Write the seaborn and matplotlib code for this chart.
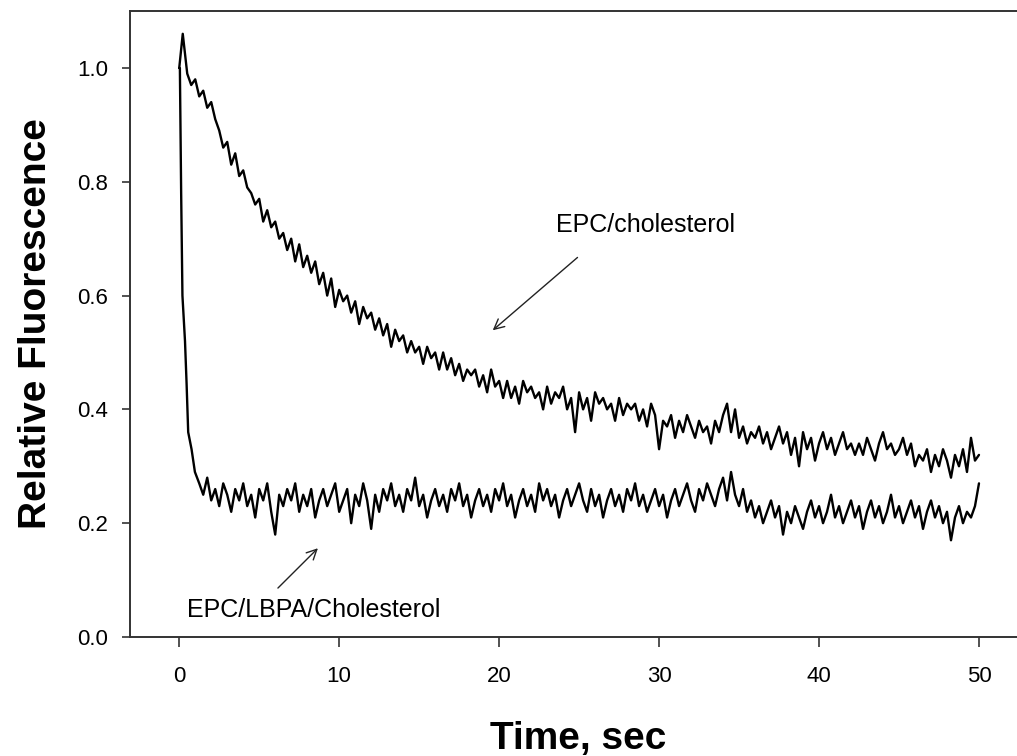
import numpy as np
import pandas as pd
import seaborn as sns
from matplotlib import pyplot as plt

# EPC/cholesterol trace: the first points by hand, then samples every 0.25 s from t=0.5
chol_head_t = [0.0, 0.22]
chol_head_v = [1.00, 1.06]
chol_start, chol_dt = 0.5, 0.25
chol_v = [
    0.99, 0.97, 0.98, 0.95, 0.96, 0.93, 0.94, 0.91,
    0.89, 0.86, 0.87, 0.83, 0.85, 0.81, 0.82, 0.79,
    0.78, 0.76, 0.77, 0.73, 0.75, 0.72, 0.73, 0.70,
    0.71, 0.68, 0.70, 0.66, 0.69, 0.65, 0.67, 0.64,
    0.66, 0.62, 0.64, 0.60, 0.63, 0.58, 0.61, 0.59,
    0.60, 0.57, 0.59, 0.55, 0.58, 0.56, 0.57, 0.54,
    0.56, 0.53, 0.55, 0.51, 0.54, 0.52, 0.53, 0.50,
    0.52, 0.50, 0.51, 0.48, 0.51, 0.49, 0.50, 0.47,
    0.50, 0.47, 0.49, 0.46, 0.48, 0.45, 0.47, 0.46,
    0.47, 0.44, 0.46, 0.43, 0.47, 0.44, 0.45, 0.42,
    0.45, 0.42, 0.44, 0.41, 0.45, 0.43, 0.44, 0.42,
    0.43, 0.40, 0.44, 0.41, 0.43, 0.42, 0.44, 0.40,
    0.42, 0.36, 0.43, 0.40, 0.42, 0.38, 0.43, 0.41,
    0.42, 0.40, 0.41, 0.38, 0.42, 0.39, 0.41, 0.40,
    0.41, 0.38, 0.40, 0.37, 0.41, 0.39, 0.33, 0.38,
    0.37, 0.39, 0.35, 0.38, 0.36, 0.39, 0.37, 0.35,
    0.38, 0.36, 0.37, 0.34, 0.38, 0.36, 0.39, 0.41,
    0.36, 0.40, 0.35, 0.37, 0.34, 0.36, 0.35, 0.37,
    0.34, 0.36, 0.33, 0.35, 0.37, 0.34, 0.36, 0.32,
    0.35, 0.30, 0.36, 0.33, 0.35, 0.31, 0.34, 0.36,
    0.33, 0.35, 0.32, 0.34, 0.36, 0.33, 0.34, 0.32,
    0.34, 0.32, 0.35, 0.33, 0.31, 0.34, 0.36, 0.33,
    0.34, 0.32, 0.33, 0.35, 0.32, 0.34, 0.30, 0.32,
    0.31, 0.33, 0.29, 0.32, 0.30, 0.33, 0.31, 0.28,
    0.32, 0.30, 0.33, 0.29, 0.35, 0.31, 0.32,
]

# EPC/LBPA/Cholesterol trace: fast drop by hand, then every 0.25 s from t=1.25
lbpa_head_t = [0.0, 0.04, 0.12, 0.2, 0.36, 0.46, 0.56, 0.77, 0.98]
lbpa_head_v = [1.00, 1.00, 0.78, 0.60, 0.52, 0.445, 0.36, 0.33, 0.29]
lbpa_start, lbpa_dt = 1.25, 0.25
lbpa_v = [
    0.27, 0.25, 0.28, 0.24, 0.26, 0.23, 0.27, 0.25,
    0.22, 0.26, 0.24, 0.27, 0.23, 0.25, 0.21, 0.26,
    0.24, 0.27, 0.22, 0.18, 0.25, 0.23, 0.26, 0.24,
    0.27, 0.22, 0.25, 0.23, 0.26, 0.21, 0.24, 0.26,
    0.23, 0.25, 0.27, 0.22, 0.24, 0.26, 0.20, 0.25,
    0.23, 0.27, 0.24, 0.19, 0.25, 0.22, 0.26, 0.24,
    0.27, 0.23, 0.25, 0.22, 0.26, 0.24, 0.28, 0.23,
    0.25, 0.21, 0.24, 0.26, 0.23, 0.25, 0.22, 0.26,
    0.24, 0.27, 0.23, 0.25, 0.21, 0.24, 0.26, 0.23,
    0.25, 0.22, 0.26, 0.24, 0.27, 0.23, 0.25, 0.21,
    0.24, 0.26, 0.23, 0.25, 0.22, 0.27, 0.24, 0.26,
    0.23, 0.25, 0.21, 0.24, 0.26, 0.23, 0.25, 0.27,
    0.24, 0.22, 0.26, 0.23, 0.25, 0.21, 0.24, 0.26,
    0.23, 0.25, 0.22, 0.26, 0.24, 0.27, 0.23, 0.25,
    0.22, 0.24, 0.26, 0.23, 0.25, 0.21, 0.24, 0.26,
    0.23, 0.25, 0.27, 0.24, 0.22, 0.26, 0.24, 0.27,
    0.25, 0.23, 0.26, 0.28, 0.24, 0.29, 0.25, 0.23,
    0.26, 0.22, 0.24, 0.21, 0.23, 0.20, 0.22, 0.24,
    0.21, 0.23, 0.18, 0.22, 0.20, 0.23, 0.21, 0.19,
    0.22, 0.24, 0.21, 0.23, 0.20, 0.22, 0.25, 0.21,
    0.23, 0.20, 0.22, 0.24, 0.21, 0.23, 0.19, 0.22,
    0.24, 0.21, 0.23, 0.20, 0.22, 0.25, 0.21, 0.23,
    0.20, 0.22, 0.24, 0.21, 0.23, 0.19, 0.22, 0.24,
    0.21, 0.23, 0.20, 0.22, 0.17, 0.21, 0.23, 0.20,
    0.22, 0.21, 0.23, 0.27,
]

xticks = [0, 10, 20, 30, 40, 50]
yticks = [0.0, 0.2, 0.4, 0.6, 0.8, 1.0]


def trace(head_t, head_v, start, dt, vals):
    t = np.concatenate([head_t, start + dt * np.arange(len(vals))])
    return pd.DataFrame({'time': t, 'fluor': np.concatenate([head_v, vals])})


chol = trace(chol_head_t, chol_head_v, chol_start, chol_dt, chol_v)
lbpa = trace(lbpa_head_t, lbpa_head_v, lbpa_start, lbpa_dt, lbpa_v)

sns.set_style('ticks')
plt.rcParams['font.family'] = ['Liberation Sans', 'DejaVu Sans']
plt.rcParams['text.color'] = 'black'
plt.rcParams['axes.labelcolor'] = 'black'
plt.rcParams['xtick.color'] = 'black'
plt.rcParams['ytick.color'] = 'black'

fig = plt.figure(figsize=(10.17, 7.56), dpi=100)
ax = fig.add_axes([0.1278, 0.1574, 0.882, 0.828])

sns.lineplot(data=chol, x='time', y='fluor', estimator=None, sort=False,
             color='black', lw=1.7, ax=ax)
sns.lineplot(data=lbpa, x='time', y='fluor', estimator=None, sort=False,
             color='black', lw=1.7, ax=ax)

ax.set_xlim(-3.08, 53.0)
ax.set_ylim(0, 1.1)
ax.set_xticks(xticks)
ax.set_yticks(yticks)
ax.set_yticklabels(['{:.1f}'.format(v) for v in yticks])
ax.tick_params(axis='x', length=7, width=1.2, pad=14, labelsize=16, color='#333333', labelcolor='black')
ax.tick_params(axis='y', length=5.5, width=1.2, pad=10, labelsize=16, color='#333333', labelcolor='black')
for s in ax.spines.values():
    s.set_linewidth(1.4)
    s.set_color('#333333')

ax.set_xlabel('Time, sec', fontsize=28, fontweight='bold', labelpad=24)
ax.set_ylabel('Relative Fluorescence', fontsize=28, fontweight='bold', labelpad=17)

arrow = dict(arrowstyle='->', lw=1.0, color='#222222', mutation_scale=18, shrinkA=0, shrinkB=0)
ax.text(23.55, 0.711, 'EPC/cholesterol', fontsize=18, ha='left', va='baseline')
ax.annotate('', xy=(19.6, 0.539), xytext=(24.9, 0.667), arrowprops=arrow)
ax.text(0.48, 0.035, 'EPC/LBPA/Cholesterol', fontsize=18, ha='left', va='baseline')
ax.annotate('', xy=(8.67, 0.156), xytext=(6.17, 0.086), arrowprops=arrow)

plt.savefig('out.png', dpi=100)
plt.close()
